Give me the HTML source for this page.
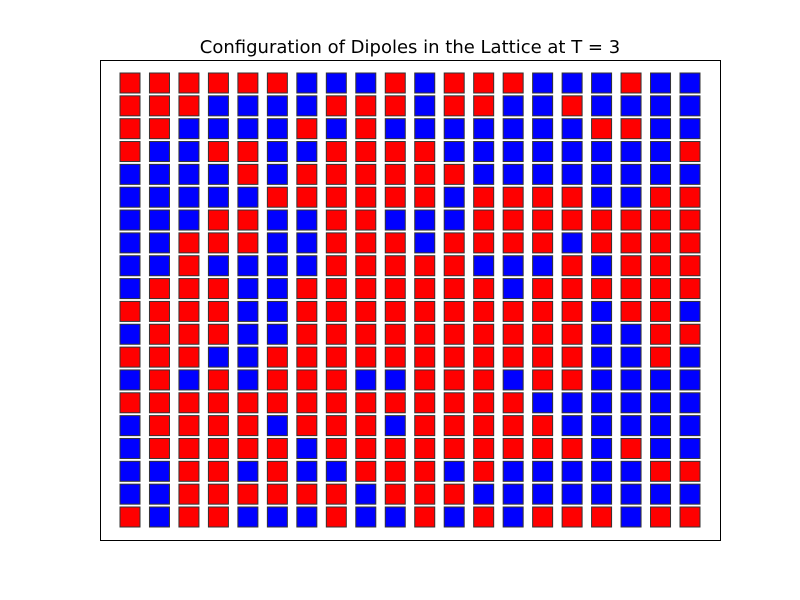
<!DOCTYPE html>
<html><head><meta charset="utf-8"><style>
body{margin:0;background:#fff;}
svg{display:block;font-family:"DejaVu Sans","Liberation Sans",sans-serif;}
</style></head><body>
<svg id="chart" width="800" height="600">
<rect x="0" y="0" width="800" height="600" fill="#fff"/>
<text x="410" y="53" text-anchor="middle" font-size="18" fill="#000">Configuration of Dipoles in the Lattice at T = 3</text>
<rect x="100.5" y="60.5" width="620" height="480" fill="none" stroke="#000" stroke-width="1"/>
<g id="cells"></g>
</svg>
<script>
const rows = [
"RRRRRRBBBRBRRRBBBRBB",
"RRRBBBBRRRBRRBBRBBBB",
"RRBBBBRBRBBBBBBBRRBB",
"RBBRRBBRRRRBBBBBBBBR",
"BBBBRBRRRRRRBBBBBBBB",
"BBBBBRRRRRRBRRRRBBRR",
"BBBRRBBRRBBBRRRRRRRR",
"BBRRRBBRRRBRRRRBRRRR",
"BBRBBBBRRRRRBBBRBRRR",
"BRRRBBRRRRRRRBRRRRRR",
"RRRRBBRRRRRRRRRRBRRB",
"BRRRBBRRRRRRRRRRBBRR",
"RRRBBRRRRRRRRRRRBBRB",
"BRBRBRRRBBRRRBRRBBBB",
"RRRRRRRRRRRRRRBBBBBB",
"BRRRRBRRRBRRRRRBBBBB",
"BRRRRRBRRRRRRRRRBRBB",
"BBRRBRBBRRRBRBBBBBRR",
"BBRRRRRRBRRRBBBBBBBB",
"RBRRBBBRBBRBRBRRRBRR"
];
const nCols = 20, nRows = 20;
function xPos(i){ return 130 + i*(560/19); }
function yPos(j){ return 83 + j*(434/19); }
const g = document.getElementById('cells');
const NS = 'http://www.w3.org/2000/svg';
for (let j=0;j<nRows;j++){
  for (let i=0;i<nCols;i++){
    const r = document.createElementNS(NS,'rect');
    r.setAttribute('x', (xPos(i)-10).toFixed(2));
    r.setAttribute('y', (yPos(j)-10).toFixed(2));
    r.setAttribute('width', 20);
    r.setAttribute('height', 20);
    r.setAttribute('fill', rows[j][i]==='R' ? '#ff0000' : '#0000ff');
    r.setAttribute('stroke', '#333');
    r.setAttribute('stroke-width', '1');
    
    
    g.appendChild(r);
  }
}
</script>
</body></html>
